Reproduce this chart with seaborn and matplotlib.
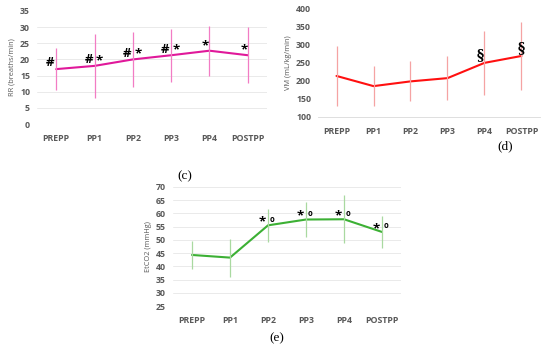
import matplotlib
matplotlib.use("Agg")
import matplotlib.pyplot as plt
import seaborn as sns
import pandas as pd
import numpy as np

sns.set_theme(style="white")
plt.rcParams["font.family"] = ["Open Sans", "DejaVu Sans"]

phases = ["PREPP", "PP1", "PP2", "PP3", "PP4", "POSTPP"]

# (c) respiratory rate
rr_mean = [17.0, 18.0, 20.0, 21.3, 22.7, 21.3]
rr_sd = [6.5, 10.0, 8.5, 8.2, 7.7, 8.7]
rr_hash = ["PREPP", "PP1", "PP2", "PP3"]
rr_star = ["PP1", "PP2", "PP3", "PP4", "POSTPP"]

# (d) minute ventilation
vm_mean = [213, 185, 198, 207, 249, 268]
vm_sd = [82, 56, 55, 60, 88, 94]
vm_sect = ["PP4", "POSTPP"]

# (e) end-tidal CO2
co2_mean = [44.3, 43.3, 55.5, 57.7, 57.8, 53.0]
co2_sd = [5.2, 7.2, 6.3, 6.5, 9.0, 6.0]
co2_mark = ["PP2", "PP3", "PP4", "POSTPP"]

gray = "#595959"
tick_font = dict(fontsize=6.3, fontweight="bold", color=gray)

fig = plt.figure(figsize=(5.5, 3.52), dpi=100)
ax_c = fig.add_axes([37/550, 1-124/352, 230/550, 113/352])
ax_d = fig.add_axes([318/550, 1-117/352, 222/550, 109/352])
ax_e = fig.add_axes([173/550, 1-306/352, 228/550, 119/352])


def draw(ax, mean, sd, line_col, err_col, ylim, yticks, ylabel, grid=True):
    df = pd.DataFrame({"phase": phases, "value": mean, "sd": sd})
    sns.lineplot(data=df, x="phase", y="value", color=line_col, lw=1.5, ax=ax, sort=False)
    ax.errorbar(df["phase"], df["value"], yerr=df["sd"], fmt="none",
                ecolor=err_col, elinewidth=0.9, capsize=0)
    ax.set_xlim(-0.5, 5.5)
    ax.set_ylim(*ylim)
    ax.set_yticks(yticks)
    ax.set_xticks(range(len(phases)))
    ax.set_xticklabels(phases, **tick_font)
    ax.set_yticklabels([str(t) for t in yticks], **tick_font)
    ax.tick_params(axis="both", length=0)
    ax.tick_params(axis="x", pad=7)
    ax.tick_params(axis="y", pad=5)
    ax.set_xlabel("")
    ax.set_ylabel(ylabel, fontsize=5.3, color=gray, labelpad=3)
    for s in ax.spines.values():
        s.set_visible(False)
    if grid:
        ax.yaxis.grid(True, color="#e6e6e6", lw=0.6)
    ax.set_facecolor("none")
    return df


# (c)
df_c = draw(ax_c, rr_mean, rr_sd, "#e0189a", "#f27cc4", (0, 35), list(range(0, 40, 5)),
            "RR (breaths/min)")
ax_c.yaxis.get_gridlines()[0].set_visible(False)
ax_c.yaxis.get_gridlines()[-1].set_visible(False)
for p in rr_hash:
    i = phases.index(p)
    ax_c.text(i - 0.15, rr_mean[i] + 1.9, "#", fontsize=9.5, fontweight="bold",
              ha="center", va="center", color="black")
for p in rr_star:
    i = phases.index(p)
    dx = 0.13 if p in rr_hash else -0.1
    ax_c.text(i + dx, rr_mean[i] + 1.6, "*", fontsize=9.5, fontweight="bold",
              ha="center", va="center", color="black")

# (d)
df_d = draw(ax_d, vm_mean, vm_sd, "#ff1010", "#f5a3a3", (100, 400), list(range(100, 450, 50)),
            "VM (mL/kg/min)", grid=False)
ax_d.spines["bottom"].set_visible(True)
ax_d.spines["bottom"].set_color("#d9d9d9")
ax_d.spines["bottom"].set_linewidth(0.6)
for p in vm_sect:
    i = phases.index(p)
    dx = -0.13 if p == "PP4" else 0.0
    ax_d.text(i + dx, vm_mean[i] + 22, "§", fontsize=10, fontweight="bold",
              ha="center", va="center", color="black", family="DejaVu Serif")

# (e)
df_e = draw(ax_e, co2_mean, co2_sd, "#3cb034", "#a9d9a0", (25, 70), list(range(25, 75, 5)),
            "EtCO2 (mmHg)")
ax_e.yaxis.get_gridlines()[0].set_color("#d0d0d0")
for p in co2_mark:
    i = phases.index(p)
    ax_e.text(i - 0.15, co2_mean[i] + 1.2, "*", fontsize=9.5, fontweight="bold",
              ha="center", va="center", color="black")
    ax_e.text(i + 0.1, co2_mean[i] + 2.3, "o", fontsize=5.5, fontweight="bold",
              ha="center", va="center", color="black")

panel_font = dict(fontsize=9.5, family=["Liberation Serif", "DejaVu Serif"], ha="center", va="center", color="black")
fig.text(185/550, 1-176/352, "(c)", **panel_font)
fig.text(505/550, 1-146/352, "(d)", **panel_font)
fig.text(277/550, 1-338/352, "(e)", **panel_font)

fig.savefig("out.png", dpi=100, facecolor="white")
